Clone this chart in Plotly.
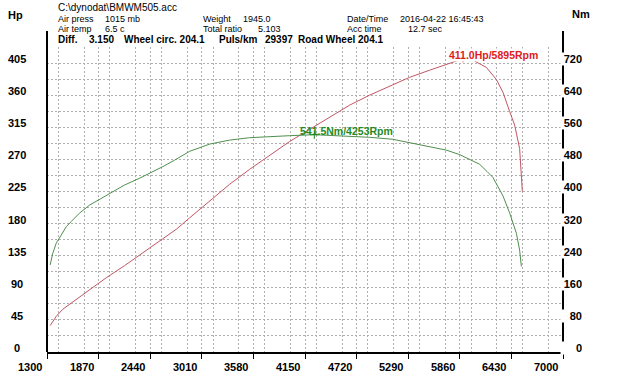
import plotly.graph_objects as go

# ---------------- data ----------------
rpm_hp = [1335, 1402, 1475, 1585, 1770, 1954, 2156, 2322, 2507, 2728, 2875, 3096, 3317, 3538,
          3759, 3980, 4201, 4422, 4643, 4864, 5085, 5306, 5527, 5748, 5895, 6005, 6153, 6264,
          6337, 6411, 6466, 6521, 6540, 6551]
power_hp = [37, 50, 60, 70, 87, 104, 121, 136, 153, 172, 188, 212, 235, 256,
            276, 295, 312, 329, 346, 360, 373, 385, 395, 405, 411, 409, 399, 382,
            364, 337, 318, 285, 252, 225]

rpm_nm = [1335, 1364, 1402, 1457, 1512, 1567, 1659, 1770, 1880, 2027, 2156, 2322, 2433, 2580,
          2709, 2875, 3096, 3317, 3538, 3759, 3980, 4253, 4643, 4864, 5121, 5490, 5711, 5857,
          5932, 6078, 6160, 6226, 6337, 6411, 6485, 6521, 6540]
torque_nm = [217, 246, 271, 292, 312, 325, 346, 366, 380, 399, 416, 433, 445, 462,
             478, 500, 518, 528, 534, 537, 539, 541.5, 538, 535, 530, 513, 503, 492,
             484, 468, 450, 435, 389, 346, 296, 254, 213]

peak_hp = (5895, 411.0)
peak_nm = (4253, 541.5)

x_ticks = [1300, 1870, 2440, 3010, 3580, 4150, 4720, 5290, 5860, 6430, 7000]
hp_ticks = [0, 45, 90, 135, 180, 225, 270, 315, 360, 405, 450]
nm_ticks = [0, 80, 160, 240, 320, 400, 480, 560, 640, 720, 800]

# ---------------- layout geometry ----------------
W, H = 620, 391
L, R, T, B = 47, 57, 47, 39
PW, PH = W - L - R, H - T - B


def px(xp):
    return (xp - L) / PW


def py(yp):
    return (H - B - yp) / PH


RED_LINE = "#c25563"
GREEN_LINE = "#4f8f4f"
FONT = "Liberation Sans"

fig = go.Figure()
fig.add_trace(go.Scatter(x=rpm_hp, y=power_hp, mode="lines", line=dict(color=RED_LINE, width=1),
                         yaxis="y", hoverinfo="skip"))
fig.add_trace(go.Scatter(x=rpm_nm, y=torque_nm, mode="lines", line=dict(color=GREEN_LINE, width=1),
                         yaxis="y2", hoverinfo="skip"))
fig.add_trace(go.Scatter(x=[peak_hp[0]], y=[peak_hp[1]], mode="markers", yaxis="y",
                         marker=dict(symbol="cross-thin", size=5, line=dict(color="#d02020", width=1)),
                         hoverinfo="skip"))
fig.add_trace(go.Scatter(x=[peak_nm[0]], y=[peak_nm[1]], mode="markers", yaxis="y2",
                         marker=dict(symbol="cross-thin", size=6, line=dict(color="#208a20", width=1)),
                         hoverinfo="skip"))

GRID = dict(showgrid=True, gridcolor="#b0b0b0", griddash="2px,2px", gridwidth=1)

fig.update_layout(
    width=W, height=H, margin=dict(l=L, r=R, t=T, b=B),
    paper_bgcolor="white", plot_bgcolor="white", showlegend=False,
    font=dict(family=FONT, color="black"),
    xaxis=dict(range=[1300, 7000], tickvals=x_ticks, showticklabels=False, ticks="outside",
               ticklen=5, tickwidth=1, tickcolor="black", showline=True, linecolor="black",
               linewidth=2, zeroline=False, minor=dict(dtick=285, **GRID), **GRID),
    yaxis=dict(range=[0, 427.5], dtick=45, tick0=0, showticklabels=False, zeroline=False,
               showline=False, minor=dict(dtick=22.5, **GRID), **GRID),
    yaxis2=dict(range=[0, 760], overlaying="y", side="right", showgrid=False, showticklabels=False,
                zeroline=False, showline=False),
)

# axis lines (extend above the plotting grid)
for xpos in (0, 1):
    fig.add_shape(type="line", xref="paper", yref="paper", x0=xpos, x1=xpos, y0=0, y1=py(31),
                  line=dict(color="black", width=2), layer="above")

ann = []
TICKF = dict(family=FONT, size=11, color="black", weight="bold")

# x tick labels
for v in x_ticks:
    ann.append(dict(x=v, xref="x", y=py(367), yref="paper", text=str(v), showarrow=False,
                    xanchor="right", yanchor="middle", xshift=-3, font=TICKF))
# left tick labels
for v in hp_ticks:
    ann.append(dict(x=px(17), xref="paper", y=v, yref="y", text=str(v), showarrow=False,
                    xanchor="center", yanchor="middle", yshift=4, font=TICKF))
# right tick labels (white box interrupts the axis line)
for v in nm_ticks:
    ann.append(dict(x=px(583), xref="paper", y=v, yref="y2", text=str(v), showarrow=False,
                    xanchor="right", yanchor="middle", yshift=4, width=21, align="right",
                    bgcolor="white", borderpad=0, font=TICKF))

ann.append(dict(x=px(15), xref="paper", y=py(15), yref="paper", text="Hp", showarrow=False,
                xanchor="center", yanchor="middle", font=TICKF))
ann.append(dict(x=px(581), xref="paper", y=py(14), yref="paper", text="Nm", showarrow=False,
                xanchor="center", yanchor="middle", font=TICKF))


def head(x, y, text, size=9, bold=False):
    f = dict(family=FONT, size=size, color="black")
    if bold:
        f["weight"] = "bold"
    ann.append(dict(x=px(x), xref="paper", y=py(y), yref="paper", text=text, showarrow=False,
                    xanchor="left", yanchor="middle", font=f, borderpad=0))


head(57, 7.5, "C:\\dynodat\\BMWM505.acc", size=10)
head(57, 19, "Air press")
head(104, 19, "1015 mb")
head(202, 19, "Weight")
head(242, 19, "1945.0")
head(346, 19, "Date/Time")
head(399, 19, "2016-04-22 16:45:43")
head(57, 28.5, "Air temp")
head(104, 28.5, "6.5 c")
head(202, 28.5, "Total ratio")
head(257, 28.5, "5.103")
head(346, 28.5, "Acc time")
head(407, 28.5, "12.7 sec")
head(57, 39.5, "Diff.", size=10, bold=True)
head(88, 39.5, "3.150", size=10, bold=True)
head(123, 39.5, "Wheel circ. 204.1", size=10, bold=True)
head(218, 39.5, "Puls/km", size=10, bold=True)
head(264, 39.5, "29397", size=10, bold=True)
head(297, 39.5, "Road Wheel 204.1", size=10, bold=True)

# peak labels
ann.append(dict(x=px(448), xref="paper", y=py(55), yref="paper", text="411.0Hp/5895Rpm",
                showarrow=False, xanchor="left", yanchor="middle", bgcolor="white", borderpad=0,
                font=dict(family=FONT, size=10.5, color="#e0201c", weight="bold")))
ann.append(dict(x=px(298), xref="paper", y=py(131), yref="paper", text="541.5Nm/4253Rpm",
                showarrow=False, xanchor="left", yanchor="middle",
                font=dict(family=FONT, size=10.5, color="#1f8a1f", weight="bold")))

fig.update_layout(annotations=ann)
fig.write_html("out.html", config={"displayModeBar": False},
               post_script="document.body.style.margin='0px';")
